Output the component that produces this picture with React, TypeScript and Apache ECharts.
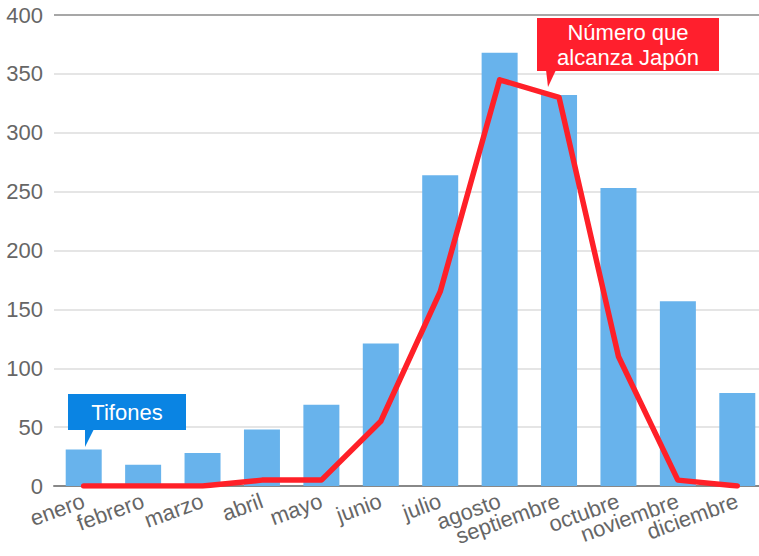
import React, { useEffect, useRef } from "react";
import * as echarts from "echarts";

const months = ["enero", "febrero", "marzo", "abril", "mayo", "junio", "julio", "agosto", "septiembre", "octubre", "noviembre", "diciembre"];
const tifones = [31, 18, 28, 48, 69, 121, 264, 368, 332, 253, 157, 79];
const japon = [0, 0, 0, 5, 5, 55, 165, 345, 330, 110, 5, 0];
const yTicks = [0, 50, 100, 150, 200, 250, 300, 350, 400];

export default function App() {
  const ref = useRef<HTMLDivElement>(null);
  useEffect(() => {
    document.body.style.margin = "0";
    const chart = echarts.init(ref.current!, null, { renderer: "svg" });
    const font = "'Liberation Sans', Arial, sans-serif";
    const gridColors = yTicks.map((v, i) => (i === yTicks.length - 1 ? "#8a8a8a" : "#dddddd"));
    chart.setOption({
      animation: false,
      textStyle: { fontFamily: font },
      grid: { left: 54, right: 0, top: 15, bottom: 70, containLabel: false },
      xAxis: {
        type: "category",
        data: months,
        axisTick: { show: false },
        axisLine: { show: true, lineStyle: { color: "#888888", width: 2 } },
        axisLabel: { rotate: 20, fontSize: 22, color: "#666666", margin: 14, interval: 0, fontFamily: font },
      },
      yAxis: {
        type: "value",
        min: 0,
        max: 400,
        interval: 50,
        axisLine: { show: false },
        axisTick: { show: false },
        axisLabel: { fontSize: 22, color: "#666666", margin: 11, fontFamily: font },
        splitLine: { show: true, lineStyle: { color: gridColors, width: 1.5 } },
      },
      series: [
        {
          name: "Tifones",
          type: "bar",
          data: tifones,
          barWidth: 36,
          itemStyle: { color: "#68b3ec" },
        },
        {
          name: "Número que alcanza Japón",
          type: "line",
          data: japon,
          symbol: "none",
          lineStyle: { color: "#ff2028", width: 5.5, join: "round", cap: "round" },
          z: 5,
        },
      ],
      graphic: [
        { type: "rect", shape: { x: 68, y: 394, width: 118, height: 36 }, style: { fill: "#0a84e3" }, z: 20 },
        { type: "polygon", shape: { points: [[85, 429], [94, 429], [85, 447]] }, style: { fill: "#0a84e3" }, z: 20 },
        {
          type: "text", x: 127, y: 412, z: 21,
          style: { text: "Tifones", fill: "#ffffff", font: `22px ${font}`, align: "center", verticalAlign: "middle" },
        },
        { type: "rect", shape: { x: 537, y: 18, width: 182, height: 53 }, style: { fill: "#ff1f2d" }, z: 20 },
        { type: "polygon", shape: { points: [[546, 70], [556, 70], [548, 87]] }, style: { fill: "#ff1f2d" }, z: 20 },
        {
          type: "text", x: 628, y: 45, z: 21,
          style: { text: "Número que\nalcanza Japón", fill: "#ffffff", font: `22px ${font}`, lineHeight: 25, align: "center", verticalAlign: "middle" },
        },
      ],
    });
    return () => chart.dispose();
  }, []);
  return (
    <div style={{ width: 759, height: 556, overflow: "hidden" }}>
      <div ref={ref} style={{ width: 767, height: 556 }} />
    </div>
  );
}
